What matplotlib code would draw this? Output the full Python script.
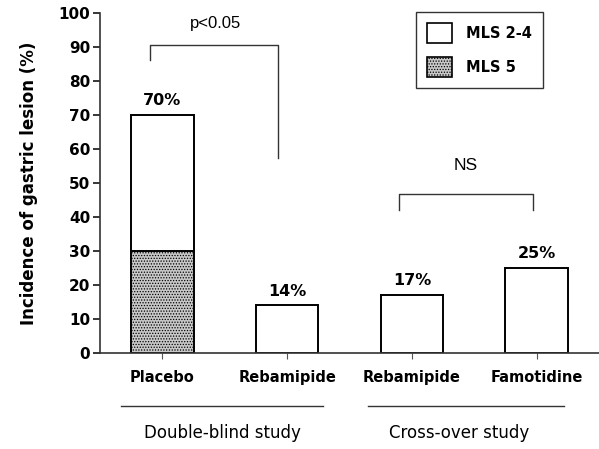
import matplotlib
matplotlib.use("Agg")
import matplotlib.pyplot as plt
from matplotlib.patches import Patch

categories = ["Placebo", "Rebamipide", "Rebamipide", "Famotidine"]
mls5 = [30, 0, 0, 0]
mls24 = [40, 14, 17, 25]
totals_labels = ["70%", "14%", "17%", "25%"]
groups = ["Double-blind study", "Cross-over study"]
yticks = [0, 10, 20, 30, 40, 50, 60, 70, 80, 90, 100]

plt.rcParams['hatch.linewidth'] = 0.6
plt.rcParams['font.family'] = ['DejaVu Sans']

fig = plt.figure(figsize=(5.99, 4.49), dpi=100)
ax = fig.add_axes([100/599, 1-353/449, 1-100/599, (353-13)/449])

x = list(range(len(categories)))
w = 0.5
ax.bar(x, mls5, width=w, color='#c8c8c8', edgecolor='black', hatch='......', linewidth=1.4)
ax.bar(x, mls24, width=w, bottom=mls5, color='white', edgecolor='black', linewidth=1.4)

for xi, a, b, lab in zip(x, mls5, mls24, totals_labels):
    ax.text(xi, a + b + 2, lab, ha='center', va='bottom', fontsize=11.5, fontweight='bold')

ax.set_xlim(-0.5, 3.5)
ax.set_ylim(0, 100)
ax.set_yticks(yticks)
ax.set_yticklabels([str(t) for t in yticks], fontsize=11, fontweight='bold')
ax.set_xticks(x)
ax.set_xticklabels(categories, fontsize=10.5, fontweight='bold')
ax.tick_params(axis='y', direction='out', length=5, width=1.1, pad=2)
ax.tick_params(axis='x', direction='out', length=4, width=0.8, pad=8, color='#555555')
for s in ['top', 'right']:
    ax.spines[s].set_visible(False)
for s in ['left', 'bottom']:
    ax.spines[s].set_linewidth(1.2)
    ax.spines[s].set_color('#333333')

ax.set_ylabel("Incidence of gastric lesion (%)", fontsize=12, fontweight='bold', labelpad=15)

# significance brackets
bk = dict(color='#333333', lw=1.0)
ax.plot([-0.1, -0.1, 0.93, 0.93], [86.2, 90.6, 90.6, 57.4], **bk)
ax.text(0.43, 96.8, "p<0.05", ha='center', va='center', fontsize=12, family='Liberation Sans')
ax.plot([1.9, 1.9, 2.97, 2.97], [42.1, 46.7, 46.7, 42.1], **bk)
ax.text(2.43, 55, "NS", ha='center', va='center', fontsize=12.5, family='Liberation Sans')

# group lines below axis
ax.plot([-0.33, 1.29], [-15.6, -15.6], color='#333333', lw=1.0, clip_on=False)
ax.plot([1.65, 3.22], [-15.6, -15.6], color='#333333', lw=1.0, clip_on=False)
ax.text(0.48, -23.6, groups[0], ha='center', va='center', fontsize=12)
ax.text(2.38, -23.6, groups[1], ha='center', va='center', fontsize=12)

handles = [Patch(facecolor='white', edgecolor='black', linewidth=1.2, label='MLS 2-4'),
           Patch(facecolor='#c8c8c8', edgecolor='black', hatch='......', linewidth=1.2, label='MLS 5')]
leg = ax.legend(handles=handles, loc='upper right', bbox_to_anchor=(543/599, 1-12/449),
                bbox_transform=fig.transFigure, frameon=True, fancybox=False,
                prop={'weight': 'bold', 'size': 10.5}, handlelength=1.75, handleheight=1.75,
                labelspacing=0.95, borderpad=0.75, handletextpad=0.95, borderaxespad=0)
leg.get_frame().set_edgecolor('black')
leg.get_frame().set_linewidth(1.0)

fig.savefig("out.png", dpi=100)
